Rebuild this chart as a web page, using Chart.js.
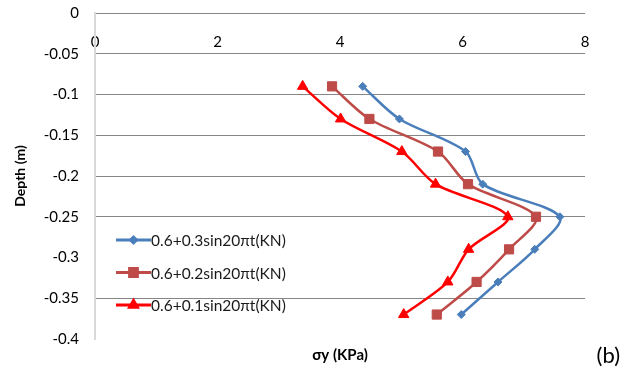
<!DOCTYPE html>
<html>
<head>
<meta charset="utf-8">
<script src="https://cdn.jsdelivr.net/npm/chart.js@4/dist/chart.umd.min.js"></script>
<style>
html, body { margin: 0; padding: 0; background: #fff; }
#wrap { width: 632px; height: 371px; }
</style>
</head>
<body>
<div id="wrap"><canvas id="grafico"></canvas></div>
<script>
const profundidades = [-0.09, -0.13, -0.17, -0.21, -0.25, -0.29, -0.33, -0.37];
const sigma03 = [4.37, 4.97, 6.05, 6.33, 7.59, 7.18, 6.58, 5.98];
const sigma02 = [3.87, 4.48, 5.60, 6.09, 7.20, 6.76, 6.23, 5.58];
const sigma01 = [3.39, 4.01, 5.01, 5.56, 6.74, 6.10, 5.76, 5.04];
const nombres = ["0.6+0.3sin20πt(KN)", "0.6+0.2sin20πt(KN)", "0.6+0.1sin20πt(KN)"];
const sinLinea = [-0.3, -0.4]; // gridlines that don't show in the original

const colores = ["#4A7EBB", "#BE4B48", "#FF0000"];
const estilos = ["rectRot", "rect", "triangle"];
const radios = [4, 6.5, 6];
const radiosLeyenda = [3, 5.5, 4.5];
const fuente = "Lato, 'Open Sans', sans-serif";

const series = [sigma03, sigma02, sigma01];

const datasets = series.map((s, i) => ({
    label: nombres[i],
    data: s.map((v, j) => ({ x: v, y: profundidades[j] })),
    borderColor: colores[i],
    backgroundColor: colores[i],
    pointStyle: estilos[i],
    pointRadius: radios[i],
    pointHoverRadius: radios[i],
    pointBorderWidth: 1,
    borderWidth: 2.5,
    showLine: true,
    tension: 0.3
}));

// legend inside the plot + "(b)"
const leyenda = {
    id: "leyenda",
    afterDraw(chart) {
        const ctx = chart.ctx;
        const area = chart.chartArea;
        ctx.save();
        ctx.font = "15.5px " + fuente;
        ctx.textBaseline = "middle";
        chart.data.datasets.forEach((ds, i) => {
            const x0 = area.left + 21;
            const y = area.top + 227 + i * 32.5;
            ctx.strokeStyle = ds.borderColor;
            ctx.lineWidth = 3;
            ctx.beginPath();
            ctx.moveTo(x0, y);
            ctx.lineTo(x0 + 35, y);
            ctx.stroke();
            ctx.fillStyle = ds.backgroundColor;
            ctx.strokeStyle = ds.borderColor;
            Chart.helpers.drawPoint(ctx, {
                pointStyle: ds.pointStyle,
                radius: radiosLeyenda[i],
                rotation: 0,
                borderWidth: 1
            }, x0 + 17.5, y);
            ctx.fillStyle = "#1a1a1a";
            ctx.fillText(ds.label, x0 + 35, y + 1);
        });
        ctx.font = "22px " + fuente;
        ctx.textAlign = "right";
        ctx.fillStyle = "#000";
        ctx.fillText("(b)", chart.width - 12, chart.height - 15);
        ctx.restore();
    }
};

new Chart(document.getElementById("grafico"), {
    type: "scatter",
    data: { datasets: datasets },
    options: {
        responsive: true,
        maintainAspectRatio: false,
        animation: false,
        layout: { padding: { left: 0, right: 47, top: 13, bottom: 5 } },
        plugins: {
            legend: { display: false },
            tooltip: { enabled: false }
        },
        scales: {
            x: {
                type: "linear",
                min: 0,
                max: 8,
                position: { y: 0 },
                ticks: { stepSize: 2, padding: 20, color: "#000", font: { family: fuente, size: 15 } },
                grid: { display: false, drawTicks: false },
                border: { display: false }
            },
            xb: {
                type: "linear",
                axis: "x",
                position: "bottom",
                min: 0,
                max: 8,
                ticks: { display: false },
                grid: { display: false, drawTicks: false },
                border: { display: false },
                title: {
                    display: true,
                    text: "σy (KPa)",
                    color: "#000",
                    font: { family: fuente, size: 15, weight: "bold" },
                    padding: { top: 7, bottom: 2 }
                }
            },
            y: {
                type: "linear",
                min: -0.4,
                max: 0,
                ticks: {
                    stepSize: 0.05,
                    padding: 0,
                    color: "#000",
                    font: { family: fuente, size: 15 },
                    callback: v => String(+v.toFixed(2))
                },
                grid: {
                    drawTicks: true,
                    tickLength: 16,
                    tickColor: "rgba(0,0,0,0)",
                    color: c => sinLinea.some(s => Math.abs(c.tick.value - s) < 1e-6) ? "rgba(0,0,0,0)" : "#868686",
                    lineWidth: 1
                },
                border: { color: "#D9D9D9", width: 2 },
                title: {
                    display: true,
                    text: "Depth (m)",
                    color: "#000",
                    font: { family: fuente, size: 14, weight: "bold" },
                    padding: { top: 12, bottom: 0 }
                },
                afterFit: s => { s.width = 95; }
            }
        }
    },
    plugins: [leyenda]
});
</script>
</body>
</html>
